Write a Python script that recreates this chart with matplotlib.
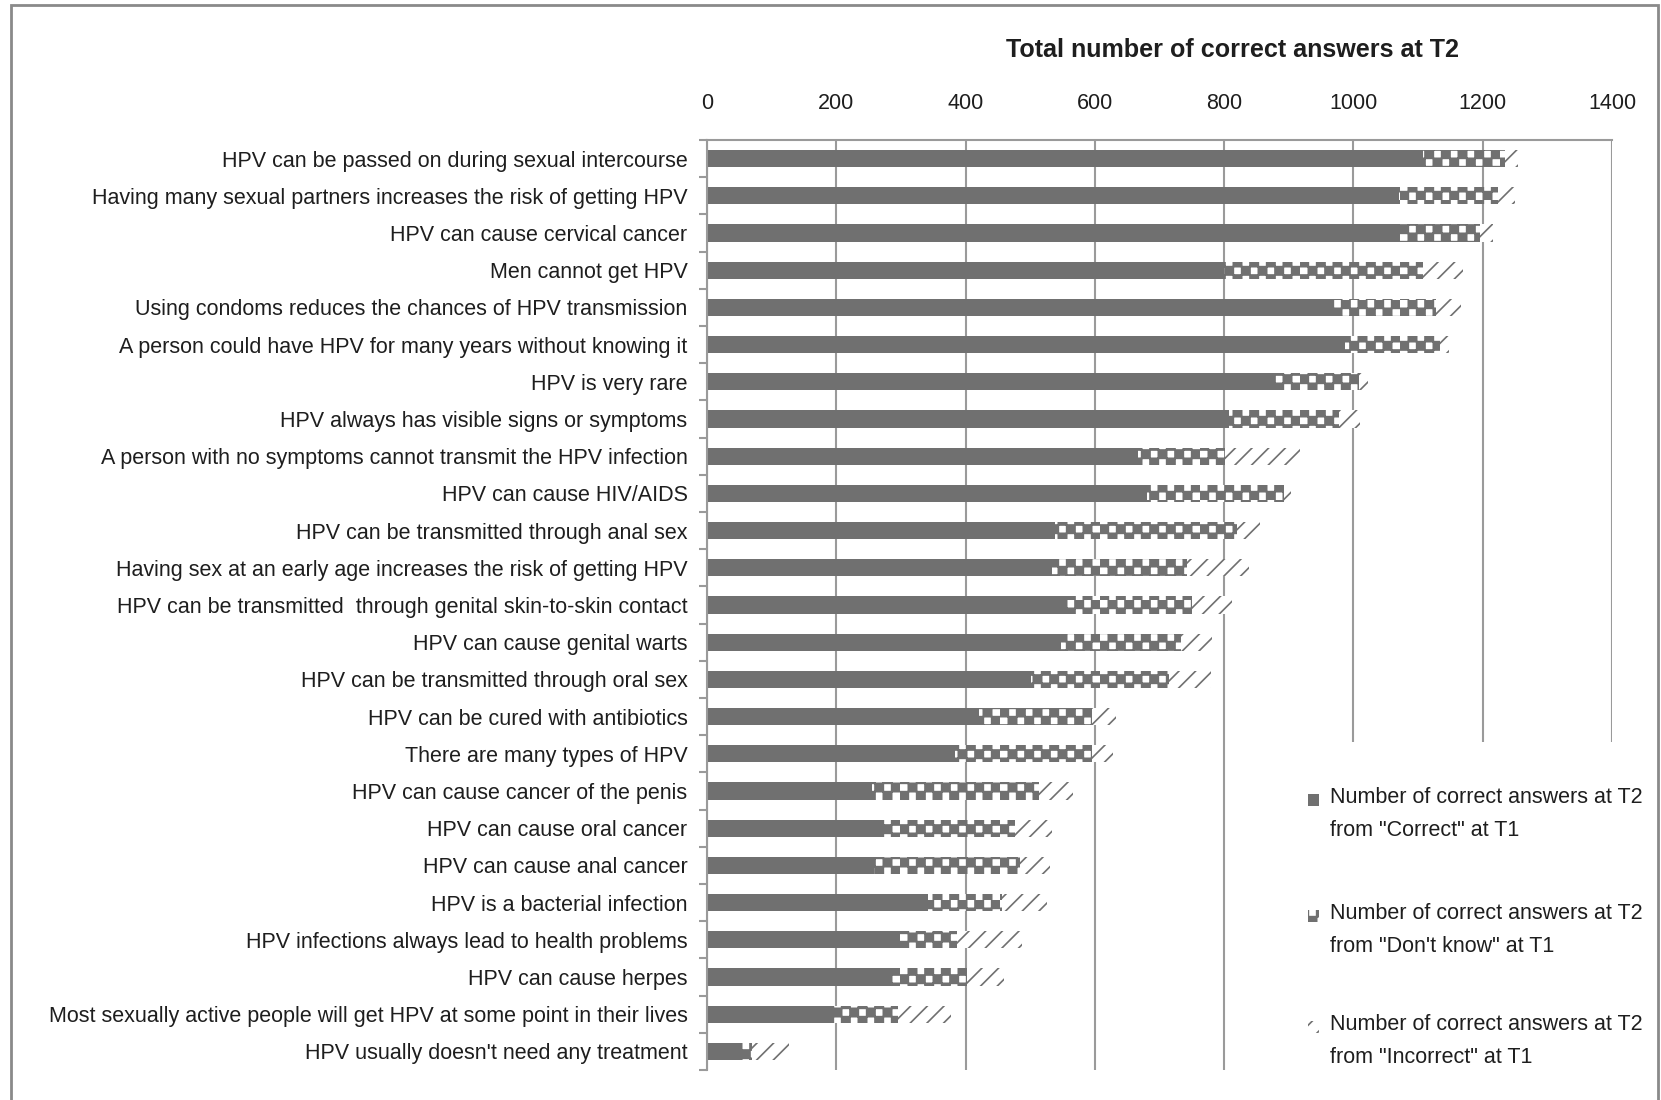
import numpy as np
import matplotlib
matplotlib.use("Agg")
import matplotlib.pyplot as plt
import matplotlib.hatch as mhatch
from matplotlib import font_manager
from matplotlib.patches import Rectangle

questions = [
    "HPV can be passed on during sexual intercourse",
    "Having many sexual partners increases the risk of getting HPV",
    "HPV can cause cervical cancer",
    "Men cannot get HPV",
    "Using condoms reduces the chances of HPV transmission",
    "A person could have HPV for many years without knowing it",
    "HPV is very rare",
    "HPV always has visible signs or symptoms",
    "A person with no symptoms cannot transmit the HPV infection",
    "HPV can cause HIV/AIDS",
    "HPV can be transmitted through anal sex",
    "Having sex at an early age increases the risk of getting HPV",
    "HPV can be transmitted  through genital skin-to-skin contact",
    "HPV can cause genital warts",
    "HPV can be transmitted through oral sex",
    "HPV can be cured with antibiotics",
    "There are many types of HPV",
    "HPV can cause cancer of the penis",
    "HPV can cause oral cancer",
    "HPV can cause anal cancer",
    "HPV is a bacterial infection",
    "HPV infections always lead to health problems",
    "HPV can cause herpes",
    "Most sexually active people will get HPV at some point in their lives",
    "HPV usually doesn't need any treatment",
]
from_correct = [1108, 1070, 1072, 800, 969, 987, 878, 808, 666, 680, 538, 533, 556,
                548, 501, 421, 383, 255, 274, 258, 342, 298, 285, 197, 52]
from_dont_know = [126, 154, 124, 308, 159, 147, 131, 170, 136, 213, 282, 209, 194,
                  185, 214, 174, 212, 258, 202, 226, 114, 88, 117, 99, 18]
from_incorrect = [21, 26, 20, 61, 38, 14, 14, 32, 116, 10, 35, 96, 62,
                  48, 65, 38, 33, 53, 58, 47, 70, 101, 58, 82, 57]
x_ticks = [0, 200, 400, 600, 800, 1000, 1200, 1400]
legend_labels = ['Number of correct answers at T2\nfrom "Correct" at T1',
                 'Number of correct answers at T2\nfrom "Don\'t know" at T1',
                 'Number of correct answers at T2\nfrom "Incorrect" at T1']


# checkerboard fill for the "don't know" part, takes the place of the 'O' hatch
class CheckerHatch(mhatch.HatchPatternBase):
    def __init__(self, hatch, density):
        self.n = hatch.count('O') * 12
        self.num_vertices = (self.n * self.n // 2) * 5

    def set_vertices_and_codes(self, vertices, codes):
        n = self.n
        s = 1.0 / n
        k = 0
        for i in range(n):
            for j in range(n):
                if (i + j) % 2:
                    continue
                x, y = i * s, j * s
                vertices[k:k + 5] = [(x, y), (x + s, y), (x + s, y + s), (x, y + s), (x, y)]
                codes[k:k + 5] = [1, 2, 2, 2, 79]
                k += 5


mhatch._hatch_types = [CheckerHatch if h is mhatch.LargeCircles else h
                       for h in mhatch._hatch_types]

names = {f.name for f in font_manager.fontManager.ttflist}
font = 'Liberation Sans Narrow' if 'Liberation Sans Narrow' in names else 'Liberation Sans'
plt.rcParams['font.family'] = [font, 'DejaVu Sans']
plt.rcParams['hatch.linewidth'] = 1.2
fs = 18.5 if font == 'Liberation Sans Narrow' else 15.5

W, H = 1661, 1100
grey = '#707070'
line_grey = '#9a9a9a'
txt = '#1e1e1e'

fig = plt.figure(figsize=(W / 100, H / 100), dpi=100)
ax = fig.add_axes([707 / W, 1 - 1070 / H, (1612 - 707) / W, (1070 - 140) / H])

y = np.arange(len(questions))
c = np.array(from_correct)
d = np.array(from_dont_know)
w = np.array(from_incorrect)
h = 0.46
ax.barh(y, c, height=h, color=grey, lw=0)
ax.barh(y, d, left=c, height=h, color='white', edgecolor=grey, lw=0, hatch='O')
ax.barh(y, w, left=c + d, height=h, color='white', edgecolor=grey, lw=0, hatch='//')

ax.set_xlim(0, 1400)
ax.set_ylim(len(questions) - 0.5, -0.5)
ax.xaxis.tick_top()
ax.set_xticks(x_ticks)
ax.tick_params(axis='x', length=0, pad=19, labelsize=fs, labelcolor=txt)
ax.set_yticks(y)
ax.set_yticklabels(questions)
ax.set_yticks(np.arange(-0.5, len(questions), 1), minor=True)
ax.tick_params(axis='y', which='major', length=0, pad=14, labelsize=fs, labelcolor=txt)
ax.tick_params(axis='y', which='minor', length=6, width=1.5, color=line_grey)
ax.grid(axis='x', color=line_grey, lw=1.5)
ax.set_axisbelow(True)
for side in ['right', 'bottom']:
    ax.spines[side].set_visible(False)
for side in ['top', 'left']:
    ax.spines[side].set_color(line_grey)
    ax.spines[side].set_linewidth(1.5)

fig.text(1232 / W, 1 - 50 / H, 'Total number of correct answers at T2',
         ha='center', va='center', fontsize=fs * 1.17, fontweight='bold', color=txt)

# legend drawn by hand: white panel over the grid, a swatch and two text lines per entry
fig.add_artist(Rectangle((1292 / W, 1 - 1096 / H), (1655 - 1292) / W, (1096 - 742) / H,
                         transform=fig.transFigure, facecolor='white', edgecolor='none'))
styles = [dict(facecolor=grey), dict(facecolor='white', hatch='O'),
          dict(facecolor='white', hatch='//')]
for i, (lab, st) in enumerate(zip(legend_labels, styles)):
    yc = [800, 916, 1027][i]
    fig.add_artist(Rectangle((1308 / W, 1 - (yc + 6) / H), 11 / W, 12 / H,
                             transform=fig.transFigure, edgecolor=grey, lw=0, **st))
    fig.text(1330 / W, 1 - (yc - 13) / H, lab, ha='left', va='top', fontsize=fs,
             color=txt, linespacing=1.75)

# grey frame round the whole picture
fig.add_artist(Rectangle((11 / W, -0.05), (1658 - 11) / W, 1.05 - 5 / H,
                         transform=fig.transFigure, fill=False, edgecolor='#8a8a8a', lw=2))

fig.savefig('out.png', dpi=100)
print(font)
